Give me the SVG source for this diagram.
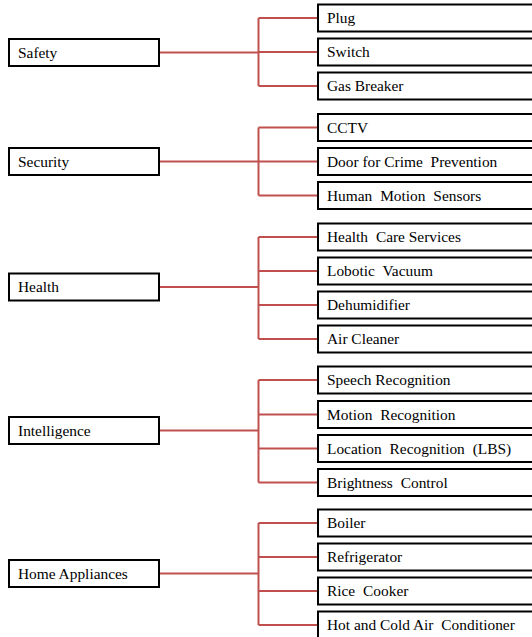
<svg xmlns="http://www.w3.org/2000/svg" width="532" height="637" viewBox="0 0 532 637">
<style>
.box{fill:#fff;stroke:#000;stroke-width:2}
.t{font-family:"Liberation Serif","Times New Roman",serif;font-size:15.4px;fill:#000}
.c{fill:none;stroke:#C0504D;stroke-width:2}
</style>
<rect width="532" height="637" fill="#fff"/>
<g id="connectors">
<path class="c" d="M159 52.5H258.5M258.5 18V86M258.5 18H318M258.5 52H318M258.5 86H318"/>
<path class="c" d="M159 161.5H258.5M258.5 127.5V195.5M258.5 127.5H318M258.5 161.5H318M258.5 195.5H318"/>
<path class="c" d="M159 287H258.5M258.5 237V339M258.5 237H318M258.5 271H318M258.5 305H318M258.5 339H318"/>
<path class="c" d="M159 430.5H258.5M258.5 380V482.5M258.5 380H318M258.5 414.5H318M258.5 448.5H318M258.5 482.5H318"/>
<path class="c" d="M159 573.5H258.5M258.5 523V625M258.5 523H318M258.5 557H318M258.5 591H318M258.5 625H318"/>
</g>
<g id="safety"><rect class="box" x="9" y="39" width="150" height="27"/><text class="t" x="18" y="57.5">Safety</text></g>
<g id="security"><rect class="box" x="9" y="148" width="150" height="27"/><text class="t" x="18" y="166.5">Security</text></g>
<g id="health"><rect class="box" x="9" y="273.5" width="150" height="27"/><text class="t" x="18" y="292">Health</text></g>
<g id="intelligence"><rect class="box" x="9" y="417" width="150" height="27"/><text class="t" x="18" y="435.5">Intelligence</text></g>
<g id="home-appliances"><rect class="box" x="9" y="560" width="150" height="27"/><text class="t" x="18" y="578.5">Home Appliances</text></g>

<g id="plug"><rect class="box" x="318" y="4.5" width="230" height="27"/><text class="t" x="327" y="23">Plug</text></g>
<g id="switch"><rect class="box" x="318" y="38.5" width="230" height="27"/><text class="t" x="327" y="57">Switch</text></g>
<g id="gas-breaker"><rect class="box" x="318" y="72.5" width="230" height="27"/><text class="t" x="327" y="91">Gas Breaker</text></g>

<g id="cctv"><rect class="box" x="318" y="114" width="230" height="27"/><text class="t" x="327" y="132.5">CCTV</text></g>
<g id="door"><rect class="box" x="318" y="148" width="230" height="27"/><text class="t" x="327" y="166.5">Door for Crime <tspan dx="4">Prevention</tspan></text></g>
<g id="human-motion"><rect class="box" x="318" y="182" width="230" height="27"/><text class="t" x="327" y="200.5">Human <tspan dx="4">Motion</tspan> <tspan dx="4">Sensors</tspan></text></g>

<g id="health-care"><rect class="box" x="318" y="223.5" width="230" height="27"/><text class="t" x="327" y="242">Health <tspan dx="4">Care Services</tspan></text></g>
<g id="lobotic"><rect class="box" x="318" y="257.5" width="230" height="27"/><text class="t" x="327" y="276">Lobotic <tspan dx="4">Vacuum</tspan></text></g>
<g id="dehumidifier"><rect class="box" x="318" y="291.5" width="230" height="27"/><text class="t" x="327" y="310">Dehumidifier</text></g>
<g id="air-cleaner"><rect class="box" x="318" y="325.5" width="230" height="27"/><text class="t" x="327" y="344">Air Cleaner</text></g>

<g id="speech"><rect class="box" x="318" y="366.5" width="230" height="27"/><text class="t" x="327" y="385">Speech Recognition</text></g>
<g id="motion"><rect class="box" x="318" y="401" width="230" height="27"/><text class="t" x="327" y="419.5">Motion <tspan dx="4">Recognition</tspan></text></g>
<g id="location"><rect class="box" x="318" y="435" width="230" height="27"/><text class="t" x="327" y="453.5">Location <tspan dx="4">Recognition</tspan> <tspan dx="4">(LBS)</tspan></text></g>
<g id="brightness"><rect class="box" x="318" y="469" width="230" height="27"/><text class="t" x="327" y="487.5">Brightness <tspan dx="4">Control</tspan></text></g>

<g id="boiler"><rect class="box" x="318" y="509.5" width="230" height="27"/><text class="t" x="327" y="528">Boiler</text></g>
<g id="refrigerator"><rect class="box" x="318" y="543.5" width="230" height="27"/><text class="t" x="327" y="562">Refrigerator</text></g>
<g id="rice-cooker"><rect class="box" x="318" y="577.5" width="230" height="27"/><text class="t" x="327" y="596">Rice <tspan dx="4">Cooker</tspan></text></g>
<g id="air-conditioner"><rect class="box" x="318" y="611.5" width="230" height="27"/><text class="t" x="327" y="630">Hot and Cold Air <tspan dx="4">Conditioner</tspan></text></g>
</svg>
